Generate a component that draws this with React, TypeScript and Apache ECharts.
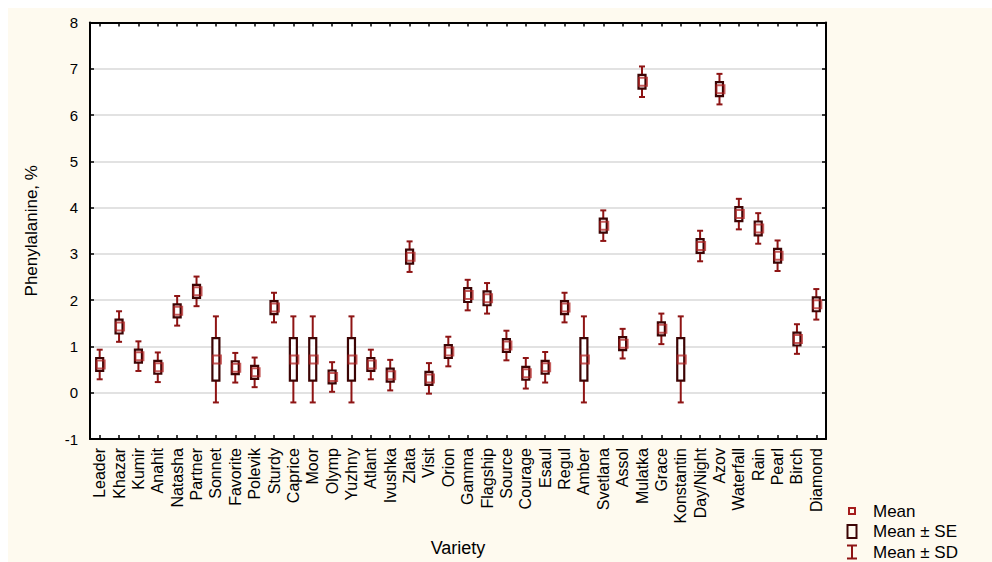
import React, { useEffect, useRef } from 'react';
import * as echarts from 'echarts';

const varieties = ['Leader', 'Khazar', 'Kumir', 'Anahit', 'Natasha', 'Partner', 'Sonnet', 'Favorite', 'Polevik', 'Sturdy', 'Caprice', 'Moor', 'Olymp', 'Yuzhny', 'Atlant', 'Ivushka', 'Zlata', 'Visit', 'Orion', 'Gamma', 'Flagship', 'Source', 'Courage', 'Esaul', 'Regul', 'Amber', 'Svetlana', 'Assol', 'Mulatka', 'Grace', 'Konstantin', 'Day/Night', 'Azov', 'Waterfall', 'Rain', 'Pearl', 'Birch', 'Diamond'];

const means = [0.61, 1.43, 0.79, 0.55, 1.77, 2.19, 0.72, 0.54, 0.44, 1.84, 0.72, 0.72, 0.34, 0.72, 0.61, 0.38, 2.94, 0.31, 0.89, 2.11, 2.04, 1.02, 0.42, 0.55, 1.84, 0.72, 3.61, 1.06, 6.72, 1.38, 0.72, 3.17, 6.56, 3.86, 3.55, 2.96, 1.16, 1.91];

const seHalf = [0.14, 0.15, 0.14, 0.14, 0.14, 0.14, 0.46, 0.14, 0.14, 0.14, 0.46, 0.46, 0.14, 0.46, 0.14, 0.14, 0.15, 0.14, 0.14, 0.15, 0.15, 0.14, 0.14, 0.14, 0.14, 0.46, 0.15, 0.14, 0.15, 0.14, 0.46, 0.15, 0.15, 0.15, 0.15, 0.15, 0.14, 0.15];

const sdHalf = [0.32, 0.33, 0.32, 0.32, 0.32, 0.32, 0.93, 0.32, 0.32, 0.32, 0.93, 0.93, 0.32, 0.93, 0.32, 0.33, 0.33, 0.33, 0.32, 0.33, 0.33, 0.32, 0.33, 0.33, 0.32, 0.93, 0.33, 0.32, 0.33, 0.33, 0.93, 0.33, 0.33, 0.33, 0.33, 0.33, 0.32, 0.33];

const yTicks = { min: -1, max: 8, interval: 1 };

const CREAM = '#FEFAEF';
const SD_COLOR = '#8E1414';
const SE_COLOR = '#3C0404';
const MEAN_COLOR = 'rgba(175, 30, 30, 0.72)';
const FONT = 'Liberation Sans, Arial, sans-serif';

const rows = varieties.map((_, i) => [i, means[i], seHalf[i], sdHalf[i]]);

const PH = 'M0,0 M22,16 ';
const meanIcon = 'path://' + PH + 'M2,4 H10 V12 H2 Z M4,6 V10 H8 V6 Z';
const seIcon = 'path://' + PH + 'M0.5,0.5 H11.5 V15.5 H0.5 Z M2.5,2.5 V13.5 H9.5 V2.5 Z';
const sdIcon = 'path://' + PH + 'M1,0.5 H11 V2.5 H7 V13.5 H11 V15.5 H1 V13.5 H5 V2.5 H1 Z';

export default function App() {
  const ref = useRef<HTMLDivElement>(null);
  useEffect(() => {
    const chart = echarts.init(ref.current as HTMLDivElement, null, { renderer: 'svg' });
    const catAxisBase = {
      type: 'category',
      data: varieties,
      boundaryGap: true,
      axisLine: { show: true, onZero: false, lineStyle: { color: '#000', width: 2 } },
      axisTick: { show: true, inside: true, length: 4, alignWithLabel: true, interval: 0, lineStyle: { color: '#000', width: 1.5 } },
      splitLine: { show: false },
    };
    const valAxisBase = {
      type: 'value',
      min: yTicks.min,
      max: yTicks.max,
      interval: yTicks.interval,
      axisLine: { show: true, onZero: false, lineStyle: { color: '#000', width: 2 } },
      axisTick: { show: true, inside: true, length: 4, lineStyle: { color: '#000', width: 1.5 } },
    };
    const option: any = {
      animation: false,
      backgroundColor: CREAM,
      textStyle: { fontFamily: FONT },
      grid: { left: 82, top: 14.5, right: 166, bottom: 117, show: true, backgroundColor: '#fff', borderWidth: 0 },
      xAxis: [
        {
          ...catAxisBase,
          position: 'bottom',
          name: 'Variety',
          nameLocation: 'middle',
          nameGap: 100,
          nameTextStyle: { color: '#000', fontSize: 18, fontFamily: FONT },
          axisLabel: { show: true, interval: 0, rotate: 90, margin: 9, color: '#000', fontSize: 16, fontFamily: FONT },
        },
        {
          ...catAxisBase,
          position: 'top',
          axisLabel: { show: false },
        },
      ],
      yAxis: [
        {
          ...valAxisBase,
          position: 'left',
          name: 'Phenylalanine, %',
          nameLocation: 'middle',
          nameGap: 50,
          nameTextStyle: { color: '#000', fontSize: 17, fontFamily: FONT },
          axisLabel: { show: true, margin: 12, color: '#000', fontSize: 15, fontFamily: FONT },
          splitLine: { show: true, lineStyle: { color: '#E2E2E2', width: 2 } },
        },
        {
          ...valAxisBase,
          position: 'right',
          axisLabel: { show: false },
          splitLine: { show: false },
        },
      ],
      legend: {
        orient: 'vertical',
        left: 838,
        top: 494.5,
        padding: 0,
        itemWidth: 22,
        itemHeight: 16,
        itemGap: 3.5,
        selectedMode: false,
        textStyle: { color: '#000', fontSize: 17, lineHeight: 17, fontFamily: FONT },
        data: [
          { name: 'Mean', icon: meanIcon, itemStyle: { color: '#A51C1C', borderWidth: 0 } },
          { name: 'Mean ± SE', icon: seIcon, itemStyle: { color: SE_COLOR, borderWidth: 0 } },
          { name: 'Mean ± SD', icon: sdIcon, itemStyle: { color: SD_COLOR, borderWidth: 0 } },
        ],
      },
      series: [
        {
          name: 'Mean ± SD',
          type: 'custom',
          xAxisIndex: 0,
          yAxisIndex: 0,
          encode: { x: 0, y: 1 },
          data: rows,
          z: 3,
          renderItem: (params: any, api: any) => {
            const i = api.value(0);
            const m = api.value(1);
            const sd = api.value(3);
            const t = api.coord([i, m + sd]);
            const b = api.coord([i, m - sd]);
            const x = t[0];
            const style = { stroke: SD_COLOR, lineWidth: 2, fill: null };
            return {
              type: 'group',
              children: [
                { type: 'line', shape: { x1: x, y1: t[1], x2: x, y2: b[1] }, style },
                { type: 'line', shape: { x1: x - 3, y1: t[1], x2: x + 3, y2: t[1] }, style },
                { type: 'line', shape: { x1: x - 3, y1: b[1], x2: x + 3, y2: b[1] }, style },
              ],
            };
          },
        },
        {
          name: 'Mean ± SE',
          type: 'custom',
          xAxisIndex: 0,
          yAxisIndex: 0,
          encode: { x: 0, y: 1 },
          data: rows,
          z: 4,
          renderItem: (params: any, api: any) => {
            const i = api.value(0);
            const m = api.value(1);
            const se = api.value(2);
            const t = api.coord([i, m + se]);
            const b = api.coord([i, m - se]);
            return {
              type: 'rect',
              shape: { x: t[0] - 3.5, y: t[1], width: 7, height: b[1] - t[1] },
              style: { fill: '#fff', stroke: SE_COLOR, lineWidth: 2.2 },
            };
          },
        },
        {
          name: 'Mean',
          type: 'custom',
          xAxisIndex: 0,
          yAxisIndex: 0,
          encode: { x: 0, y: 1 },
          data: rows,
          z: 5,
          renderItem: (params: any, api: any) => {
            const i = api.value(0);
            const m = api.value(1);
            const c = api.coord([i, m]);
            return {
              type: 'rect',
              shape: { x: c[0] - 3, y: c[1] - 4, width: 8, height: 8 },
              style: { fill: null, stroke: MEAN_COLOR, lineWidth: 2 },
            };
          },
        },
      ],
    };
    chart.setOption(option);
    return () => chart.dispose();
  }, []);
  return <div ref={ref} style={{ position: 'fixed', left: 8, top: 8, width: 984, height: 554, background: CREAM }} />;
}
